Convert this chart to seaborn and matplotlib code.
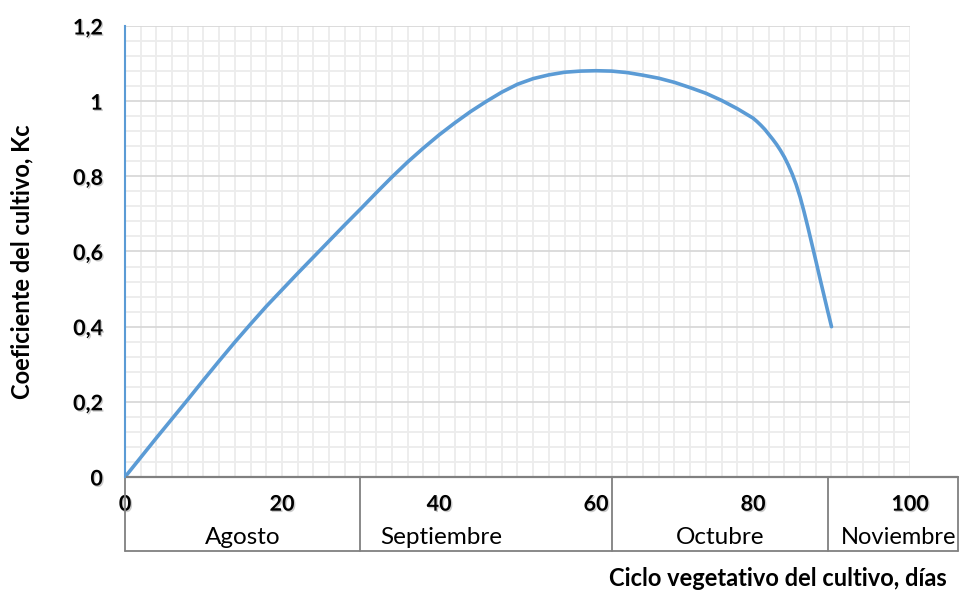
import numpy as np
import pandas as pd
import seaborn as sns
import matplotlib.pyplot as plt
import matplotlib.patheffects as pe

# Kc curve
dias = [0, 2, 4, 6, 8, 10, 12, 14, 16, 18, 20, 22, 24, 26, 28, 30, 32, 34, 36, 38,
        40, 42, 44, 46, 48, 50, 52, 54, 56, 58, 60, 62, 64, 66, 68, 70, 72, 74, 76,
        78, 80, 80.5, 81, 81.5, 82, 82.5, 83, 83.5, 84, 84.5, 85, 85.5, 86, 86.5,
        87, 87.5, 88, 88.5, 89, 89.5, 90]
kc = [0.0, 0.052, 0.104, 0.155, 0.206, 0.258, 0.309, 0.359, 0.407, 0.454, 0.498,
      0.542, 0.585, 0.628, 0.671, 0.713, 0.756, 0.798, 0.838, 0.875, 0.91, 0.942,
      0.972, 0.999, 1.024, 1.045, 1.060, 1.070, 1.077, 1.080, 1.081, 1.080, 1.076,
      1.069, 1.061, 1.050, 1.036, 1.021, 1.002, 0.980, 0.955, 0.946, 0.936, 0.925,
      0.912, 0.899, 0.885, 0.869, 0.851, 0.830, 0.806, 0.778, 0.745, 0.706, 0.664,
      0.620, 0.576, 0.531, 0.487, 0.443, 0.400]

x_ticks = [0, 20, 40, 60, 80, 100]
y_ticks = [0, 0.2, 0.4, 0.6, 0.8, 1.0, 1.2]
y_tick_labels = ['0', '0,2', '0,4', '0,6', '0,8', '1', '1,2']

meses = ['Agosto', 'Septiembre', 'Octubre', 'Noviembre']
mes_bordes = [0, 30, 62, 89.6, 106.1]
mes_texto_x = [15, 40.3, 75.8, 98.6]

df = pd.DataFrame({'dias': dias, 'kc': kc})

sns.set_theme(style='white')
plt.rcParams['font.family'] = ['Lato', 'DejaVu Sans']

azul = '#5b9bd5'
gris = '#808080'

fig = plt.figure(figsize=(9.62, 5.9), dpi=100)
ax = fig.add_axes([125 / 962, 1 - 477 / 590, 785 / 962, 451 / 590])

sns.lineplot(data=df, x='dias', y='kc', ax=ax, color=azul, linewidth=2.6)

ax.set_xlim(0, 100)
ax.set_ylim(0, 1.2)
ax.set_xticks(x_ticks)
ax.set_xticks(np.arange(0, 101, 2), minor=True)
ax.set_yticks(y_ticks)
ax.set_yticks(np.arange(0, 1.201, 0.04), minor=True)
ax.set_yticklabels(y_tick_labels)

ax.grid(which='minor', color='#ececec', linewidth=1.3)
ax.grid(which='major', axis='x', color='#ececec', linewidth=1.3)
ax.grid(which='major', axis='y', color='#d9d9d9', linewidth=1.3)
ax.set_axisbelow(True)

for s in ['top', 'right']:
    ax.spines[s].set_visible(False)
ax.spines['left'].set_color(azul)
ax.spines['left'].set_linewidth(1.5)
ax.spines['bottom'].set_visible(False)

sombra = [pe.withSimplePatchShadow(offset=(1, -1), shadow_rgbFace='#999999', alpha=0.5)]
ax.tick_params(which='both', length=0)
ax.tick_params(axis='x', pad=12, labelsize=15.5)
ax.tick_params(axis='y', pad=16, labelsize=15.5)
for t in ax.get_xticklabels() + ax.get_yticklabels():
    t.set_fontweight('bold')
    t.set_color('black')
    t.set_path_effects(sombra)

# month table under the axis
trans = ax.get_xaxis_transform()
y_bajo = -74 / 451
ax.plot([0, mes_bordes[-1]], [0, 0], transform=trans, color=gris, lw=1.6, clip_on=False)
ax.plot([0, mes_bordes[-1]], [y_bajo, y_bajo], transform=trans, color=gris, lw=1.3, clip_on=False)
for b in mes_bordes:
    ax.plot([b, b], [0, y_bajo], transform=trans, color=gris, lw=1.3, clip_on=False)
for m, mx in zip(meses, mes_texto_x):
    ax.text(mx, -60 / 451, m, transform=trans, ha='center', va='center',
            fontsize=17 if m == 'Noviembre' else 17.5, color='black', clip_on=False)

ax.set_xlabel('Ciclo vegetativo del cultivo, días', fontsize=17, fontweight='bold', color='black')
ax.set_ylabel('Coeficiente del cultivo, Kc', fontsize=17, fontweight='bold', color='black')
ax.xaxis.set_label_coords(0.832, -0.224)
ax.xaxis.label.set_va('center')
ax.yaxis.set_label_coords(-0.131, 0.477)
ax.yaxis.label.set_va('center')

fig.savefig('out.png', dpi=100)
